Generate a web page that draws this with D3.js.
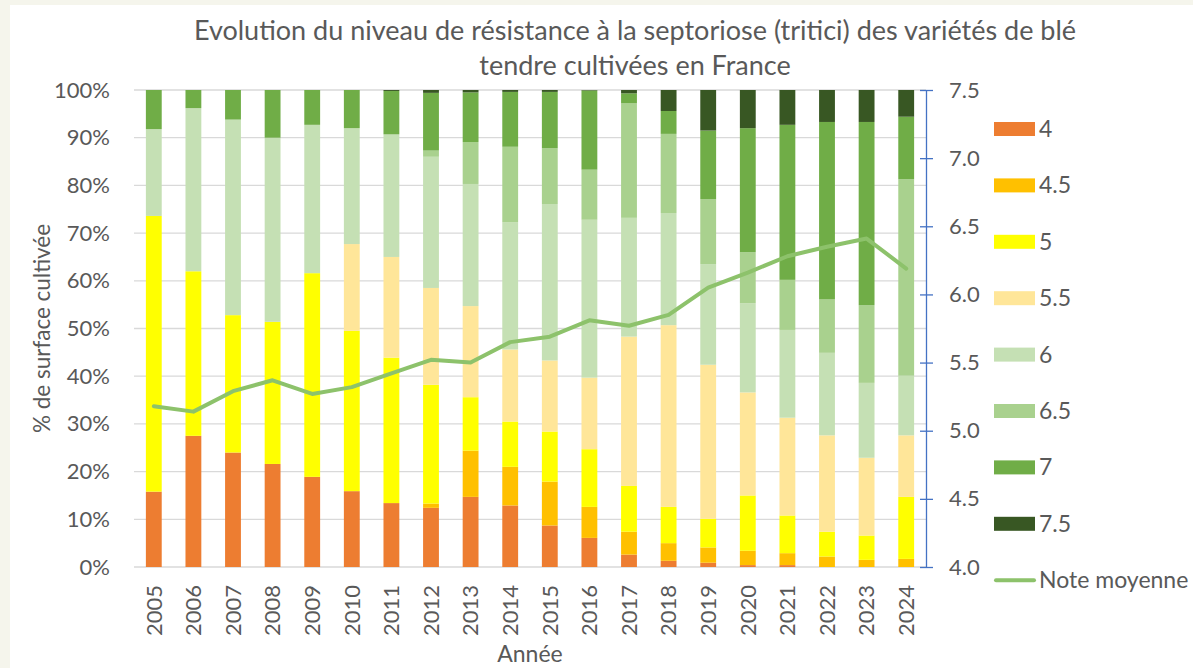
<!DOCTYPE html>
<html>
<head>
<meta charset="utf-8">
<script src="https://cdn.jsdelivr.net/npm/d3@7"></script>
<style>
  html, body { margin: 0; padding: 0; background: #f5f5ec; }
  svg { display: block; }
  text { font-family: Lato, "Noto Sans", sans-serif; fill: #595959; }
</style>
</head>
<body>
<div id="chart"></div>
<script>
const years = ["2005","2006","2007","2008","2009","2010","2011","2012","2013","2014",
               "2015","2016","2017","2018","2019","2020","2021","2022","2023","2024"];
const notes = ["4", "4.5", "5", "5.5", "6", "6.5", "7", "7.5"];

// % de surface par note de résistance
const s4   = [15.8, 27.5, 24.0, 21.6, 18.9, 15.9, 13.4, 12.4, 14.7, 12.9, 8.7, 6.1, 2.6, 1.3, 0.9, 0.4, 0.4, 0, 0, 0];
const s4_5 = [0, 0, 0, 0, 0, 0, 0, 0.9, 9.7, 8.1, 9.2, 6.5, 4.8, 3.7, 3.2, 3.0, 2.5, 2.2, 1.5, 1.7];
const s5   = [57.8, 34.5, 28.8, 29.8, 42.7, 33.6, 30.5, 24.9, 11.2, 9.5, 10.5, 12.1, 9.6, 7.6, 6.0, 11.6, 7.9, 5.2, 5.1, 13.0];
const s5_5 = [0, 0, 0, 0, 0, 18.2, 21.1, 20.3, 19.1, 15.1, 14.9, 15.0, 31.3, 38.1, 32.3, 21.6, 20.5, 20.2, 16.3, 12.9];
const s6   = [18.2, 34.2, 41.0, 38.6, 31.1, 24.3, 25.7, 27.5, 25.6, 26.7, 32.8, 33.1, 24.9, 23.5, 21.1, 18.7, 18.4, 17.3, 15.7, 12.5];
const s6_5 = [0, 0, 0, 0, 0, 0, 0, 1.3, 8.8, 15.8, 11.7, 10.5, 24.0, 16.6, 13.6, 10.7, 10.5, 11.2, 16.3, 41.2];
const s7   = [8.2, 3.8, 6.2, 10.0, 7.3, 8.0, 9.1, 12.1, 10.4, 11.5, 11.8, 16.6, 2.1, 4.8, 14.4, 26.0, 32.5, 37.2, 38.4, 13.1];
const s7_5 = [0, 0, 0, 0, 0, 0, 0.2, 0.6, 0.5, 0.4, 0.4, 0.1, 0.7, 4.4, 8.5, 8.0, 7.3, 6.7, 6.7, 5.6];
const noteMoyenne = [5.18, 5.14, 5.29, 5.37, 5.27, 5.32, 5.42, 5.52, 5.50, 5.65,
                     5.69, 5.81, 5.77, 5.85, 6.05, 6.16, 6.28, 6.35, 6.41, 6.19];

const pctTicks = [0, 10, 20, 30, 40, 50, 60, 70, 80, 90, 100];
const noteTicks = [4.0, 4.5, 5.0, 5.5, 6.0, 6.5, 7.0, 7.5];

const colors = ["#ed7d31", "#ffc000", "#ffff00", "#ffe699", "#c5e0b4", "#a9d18e", "#70ad47", "#385723"];
const lineColor = "#8dc26b";

const W = 1193, H = 668;
const plot = {left: 134, right: 926, top: 90, bottom: 567};

const seriesData = [s4, s4_5, s5, s5_5, s6, s6_5, s7, s7_5];
const rows = years.map((y, i) => {
    const r = {year: y};
    notes.forEach((n, k) => r[n] = seriesData[k][i]);
    return r;
});

const svg = d3.select("#chart").append("svg")
    .attr("width", W)
    .attr("height", H);

// zone blanche du graphique
svg.append("rect")
    .attr("x", 10).attr("y", 5)
    .attr("width", W - 10).attr("height", H - 5)
    .attr("fill", "#ffffff");

const x = d3.scaleBand()
    .domain(years)
    .range([plot.left, plot.right])
    .paddingInner(0.6)
    .paddingOuter(0.3);

const y = d3.scaleLinear().domain([0, 100]).range([plot.bottom, plot.top]);
const y2 = d3.scaleLinear().domain([4, 7.5]).range([plot.bottom, plot.top]);

// Title
const title = svg.append("text")
    .attr("x", 635)
    .attr("text-anchor", "middle")
    .style("font-size", "27px");
title.append("tspan").attr("x", 635).attr("y", 40)
    .text("Evolution du niveau de résistance à la septoriose (tritici) des variétés de blé");
title.append("tspan").attr("x", 635).attr("y", 75)
    .text("tendre cultivées en France");

// Gridlines
svg.append("g")
    .selectAll("line")
    .data(pctTicks)
    .enter().append("line")
    .attr("x1", plot.left).attr("x2", plot.right)
    .attr("y1", d => y(d)).attr("y2", d => y(d))
    .attr("stroke", "#d9d9d9")
    .attr("stroke-width", 1.3);

// Stacked bars
const stack = d3.stack().keys(notes)(rows);
svg.append("g")
    .selectAll("g")
    .data(stack)
    .enter().append("g")
    .attr("fill", (d, i) => colors[i])
    .selectAll("rect")
    .data(d => d)
    .enter().append("rect")
    .attr("x", d => x(d.data.year))
    .attr("width", x.bandwidth())
    .attr("y", d => y(d[1]))
    .attr("height", d => y(d[0]) - y(d[1]));

// Left axis (labels only)
const yAxis = svg.append("g")
    .attr("transform", `translate(${plot.left},0)`)
    .call(d3.axisLeft(y).tickValues(pctTicks).tickFormat(d => d + "%").tickSize(0).tickPadding(24));
yAxis.select(".domain").remove();
yAxis.selectAll("text").style("font-size", "22px").attr("fill", "#595959");

// Bottom axis (labels only)
const xAxis = svg.append("g")
    .attr("transform", `translate(0,${plot.bottom})`)
    .call(d3.axisBottom(x).tickSize(0));
xAxis.select(".domain").remove();
xAxis.selectAll("text")
    .style("font-size", "22px")
    .attr("fill", "#595959")
    .attr("text-anchor", "end")
    .attr("transform", "rotate(-90)")
    .attr("x", -18)
    .attr("y", 0)
    .attr("dy", "0.35em");

// Right axis
const y2Axis = svg.append("g")
    .attr("transform", `translate(${plot.right},0)`)
    .call(d3.axisRight(y2).tickValues(noteTicks).tickFormat(d3.format(".1f")).tickSize(7).tickPadding(16).tickSizeOuter(0));
y2Axis.select(".domain").attr("stroke", "#4472c4").attr("stroke-width", 1.3);
y2Axis.selectAll(".tick line").attr("stroke", "#4472c4").attr("stroke-width", 1.3).attr("x1", -6);
y2Axis.selectAll("text").style("font-size", "22px").attr("fill", "#595959");

// Average line
const line = d3.line()
    .x(d => x(d.year) + x.bandwidth() / 2)
    .y(d => y2(d.v));
svg.append("path")
    .datum(years.map((yr, i) => ({year: yr, v: noteMoyenne[i]})))
    .attr("fill", "none")
    .attr("stroke", lineColor)
    .attr("stroke-width", 4)
    .attr("stroke-linejoin", "round")
    .attr("stroke-linecap", "round")
    .attr("d", line);

// Axis titles
svg.append("text")
    .attr("transform", `translate(50,${(plot.top + plot.bottom) / 2}) rotate(-90)`)
    .attr("text-anchor", "middle")
    .style("font-size", "22.5px")
    .text("% de surface cultivée");

svg.append("text")
    .attr("x", (plot.left + plot.right) / 2)
    .attr("y", 662)
    .attr("text-anchor", "middle")
    .style("font-size", "23px")
    .text("Année");

// Legend
const legend = svg.append("g").attr("transform", "translate(994,0)");
notes.forEach((n, i) => {
    const cy = 129 + i * 56.4;
    legend.append("rect")
        .attr("x", 0).attr("y", cy - 7)
        .attr("width", 41).attr("height", 14)
        .attr("fill", colors[i]);
    legend.append("text")
        .attr("x", 45).attr("y", cy)
        .attr("dy", "0.35em")
        .style("font-size", "23px")
        .text(n);
});
const ly = 129 + 8 * 56.4;
legend.append("line")
    .attr("x1", 2).attr("x2", 40)
    .attr("y1", ly).attr("y2", ly)
    .attr("stroke", lineColor)
    .attr("stroke-width", 4)
    .attr("stroke-linecap", "round");
legend.append("text")
    .attr("x", 45).attr("y", ly)
    .attr("dy", "0.35em")
    .style("font-size", "23px")
    .text("Note moyenne");
</script>
</body>
</html>
